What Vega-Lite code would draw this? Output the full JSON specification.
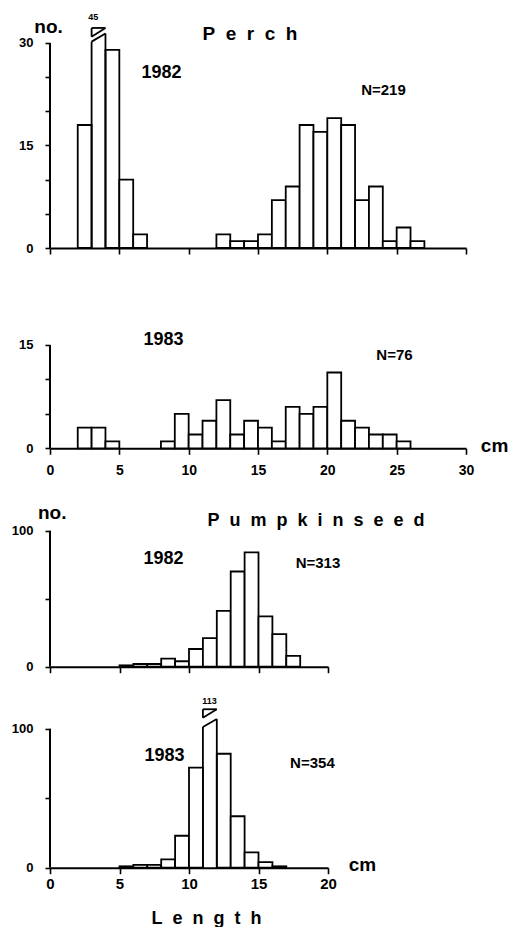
{
  "$schema": "https://vega.github.io/schema/vega-lite/v6.json",
  "padding": {"left": 11, "top": 0, "right": 0, "bottom": 0},
  "spacing": 0,
  "bounds": "flush",
  "config": {
    "view": {"stroke": null},
    "font": "Liberation Sans",
    "axis": {"grid": false, "domainColor": "black", "domainWidth": 2, "tickColor": "black", "tickWidth": 1.6, "labelColor": "black", "labelFont": "Liberation Sans", "labelFontWeight": "bold", "labelFlush": false, "labelOverlap": false, "title": null},
    "text": {"font": "Liberation Sans", "fontWeight": "bold", "color": "black"}
  },
  "datasets": {
    "perch1982": [
      {"start": 2, "end": 3, "count": 18}, {"start": 3, "end": 4, "count": 45}, {"start": 4, "end": 5, "count": 29},
      {"start": 5, "end": 6, "count": 10}, {"start": 6, "end": 7, "count": 2},
      {"start": 12, "end": 13, "count": 2}, {"start": 13, "end": 14, "count": 1}, {"start": 14, "end": 15, "count": 1},
      {"start": 15, "end": 16, "count": 2}, {"start": 16, "end": 17, "count": 7}, {"start": 17, "end": 18, "count": 9},
      {"start": 18, "end": 19, "count": 18}, {"start": 19, "end": 20, "count": 17}, {"start": 20, "end": 21, "count": 19},
      {"start": 21, "end": 22, "count": 18}, {"start": 22, "end": 23, "count": 7}, {"start": 23, "end": 24, "count": 9},
      {"start": 24, "end": 25, "count": 1}, {"start": 25, "end": 26, "count": 3}, {"start": 26, "end": 27, "count": 1}
    ],
    "perch1983": [
      {"start": 2, "end": 3, "count": 3}, {"start": 3, "end": 4, "count": 3}, {"start": 4, "end": 5, "count": 1},
      {"start": 8, "end": 9, "count": 1}, {"start": 9, "end": 10, "count": 5}, {"start": 10, "end": 11, "count": 2},
      {"start": 11, "end": 12, "count": 4}, {"start": 12, "end": 13, "count": 7}, {"start": 13, "end": 14, "count": 2},
      {"start": 14, "end": 15, "count": 4}, {"start": 15, "end": 16, "count": 3}, {"start": 16, "end": 17, "count": 1},
      {"start": 17, "end": 18, "count": 6}, {"start": 18, "end": 19, "count": 5}, {"start": 19, "end": 20, "count": 6},
      {"start": 20, "end": 21, "count": 11}, {"start": 21, "end": 22, "count": 4}, {"start": 22, "end": 23, "count": 3},
      {"start": 23, "end": 24, "count": 2}, {"start": 24, "end": 25, "count": 2}, {"start": 25, "end": 26, "count": 1}
    ],
    "pk1982": [
      {"start": 5, "end": 6, "count": 1}, {"start": 6, "end": 7, "count": 2}, {"start": 7, "end": 8, "count": 2},
      {"start": 8, "end": 9, "count": 6}, {"start": 9, "end": 10, "count": 4}, {"start": 10, "end": 11, "count": 13},
      {"start": 11, "end": 12, "count": 21}, {"start": 12, "end": 13, "count": 41}, {"start": 13, "end": 14, "count": 70},
      {"start": 14, "end": 15, "count": 84}, {"start": 15, "end": 16, "count": 37}, {"start": 16, "end": 17, "count": 24},
      {"start": 17, "end": 18, "count": 8}
    ],
    "pk1983": [
      {"start": 5, "end": 6, "count": 1}, {"start": 6, "end": 7, "count": 2}, {"start": 7, "end": 8, "count": 2},
      {"start": 8, "end": 9, "count": 6}, {"start": 9, "end": 10, "count": 23}, {"start": 10, "end": 11, "count": 72},
      {"start": 11, "end": 12, "count": 113}, {"start": 12, "end": 13, "count": 82}, {"start": 13, "end": 14, "count": 37},
      {"start": 14, "end": 15, "count": 11}, {"start": 15, "end": 16, "count": 4}, {"start": 16, "end": 17, "count": 1}
    ],
    "one": [{}]
  },
  "vconcat": [
    {
      "width": 416, "height": 248,
      "layer": [
        {"data": {"name": "perch1982"}, "transform": [{"filter": "datum.count < 40"}],
         "mark": {"type": "rect", "fill": "white", "stroke": "black", "strokeWidth": 1.8},
         "encoding": {
           "x": {"field": "start", "type": "quantitative", "scale": {"domain": [0, 30], "nice": false}, "axis": {"values": [0, 5, 10, 15, 20, 25, 30], "labels": false, "tickSize": 6}},
           "x2": {"field": "end"},
           "y": {"field": "count", "type": "quantitative", "scale": {"domain": [0, 36.29], "nice": false}, "axis": {"values": [0, 5, 10, 15, 20, 25, 30], "labelExpr": "datum.value % 15 === 0 ? datum.label : ''", "domain": false, "tickSize": 5, "labelPadding": 12, "labelFontSize": 13}},
           "y2": {"datum": 0}
         }},
        {"data": {"name": "one"}, "mark": {"type": "rule", "strokeWidth": 2, "color": "black"}, "encoding": {"x": {"datum": 0}, "y": {"datum": 0}, "y2": {"datum": 30}}},
        {"data": {"name": "one"}, "mark": {"type": "rule", "strokeWidth": 1.8, "color": "black"}, "encoding": {"x": {"datum": 3}, "y": {"datum": 0}, "y2": {"datum": 30.2}}},
        {"data": {"name": "one"}, "mark": {"type": "rule", "strokeWidth": 1.8, "color": "black"}, "encoding": {"x": {"datum": 3}, "y": {"datum": 30.2}, "x2": {"datum": 4}, "y2": {"datum": 31.4}}},
        {"data": {"name": "one"}, "mark": {"type": "rule", "strokeWidth": 1.8, "color": "black"}, "encoding": {"x": {"datum": 4}, "y": {"datum": 0}, "y2": {"datum": 31.4}}},
        {"data": {"name": "one"}, "mark": {"type": "rule", "strokeWidth": 1.8, "color": "black"}, "encoding": {"x": {"datum": 3}, "y": {"datum": 30.9}, "y2": {"datum": 32.2}}},
        {"data": {"name": "one"}, "mark": {"type": "rule", "strokeWidth": 1.8, "color": "black"}, "encoding": {"x": {"datum": 3}, "y": {"datum": 32.2}, "x2": {"datum": 4}, "y2": {"datum": 32.2}}},
        {"data": {"name": "one"}, "mark": {"type": "rule", "strokeWidth": 1.8, "color": "black"}, "encoding": {"x": {"datum": 3}, "y": {"datum": 30.9}, "x2": {"datum": 4}, "y2": {"datum": 32.2}}},
        {"data": {"name": "one"}, "mark": {"type": "text", "text": "no.", "fontSize": 19, "align": "center", "baseline": "alphabetic"}, "encoding": {"x": {"datum": -0.1}, "y": {"datum": 31.46}}},
        {"data": {"name": "one"}, "mark": {"type": "text", "text": "45", "fontSize": 9, "align": "center", "baseline": "alphabetic"}, "encoding": {"x": {"datum": 3.12}, "y": {"datum": 33.36}}},
        {"data": {"name": "one"}, "mark": {"type": "text", "text": "P\u00a0\u00a0e\u00a0\u00a0r\u00a0\u00a0c\u00a0\u00a0h", "fontSize": 19, "align": "center", "baseline": "alphabetic"}, "encoding": {"x": {"datum": 14.42}, "y": {"datum": 30.44}}},
        {"data": {"name": "one"}, "mark": {"type": "text", "text": "1982", "fontSize": 18, "align": "center", "baseline": "alphabetic"}, "encoding": {"x": {"datum": 8.04}, "y": {"datum": 24.88}}},
        {"data": {"name": "one"}, "mark": {"type": "text", "text": "N=219", "fontSize": 15, "align": "center", "baseline": "alphabetic"}, "encoding": {"x": {"datum": 24.05}, "y": {"datum": 22.39}}}
      ]
    },
    {
      "width": 416, "height": 200.3,
      "layer": [
        {"data": {"name": "perch1983"},
         "mark": {"type": "rect", "fill": "white", "stroke": "black", "strokeWidth": 1.8},
         "encoding": {
           "x": {"field": "start", "type": "quantitative", "scale": {"domain": [0, 30], "nice": false}, "axis": {"values": [0, 5, 10, 15, 20, 25, 30], "tickSize": 6, "labelPadding": 9, "labelFontSize": 14}},
           "x2": {"field": "end"},
           "y": {"field": "count", "type": "quantitative", "scale": {"domain": [0, 29.07], "nice": false}, "axis": {"values": [0, 5, 10, 15], "labelExpr": "datum.value % 15 === 0 ? datum.label : ''", "domain": false, "tickSize": 5, "labelPadding": 12, "labelFontSize": 13}},
           "y2": {"datum": 0}
         }},
        {"data": {"name": "one"}, "mark": {"type": "rule", "strokeWidth": 2, "color": "black"}, "encoding": {"x": {"datum": 0}, "y": {"datum": 0}, "y2": {"datum": 15}}},
        {"data": {"name": "one"}, "mark": {"type": "text", "text": "1983", "fontSize": 18, "align": "center", "baseline": "alphabetic"}, "encoding": {"x": {"datum": 8.18}, "y": {"datum": 15.0}}},
        {"data": {"name": "one"}, "mark": {"type": "text", "text": "N=76", "fontSize": 15, "align": "center", "baseline": "alphabetic"}, "encoding": {"x": {"datum": 24.84}, "y": {"datum": 12.83}}},
        {"data": {"name": "one"}, "mark": {"type": "text", "text": "cm", "fontSize": 19, "align": "center", "baseline": "alphabetic"}, "encoding": {"x": {"datum": 32.06}, "y": {"datum": -0.49}}}
      ]
    },
    {
      "width": 278, "height": 217.7,
      "layer": [
        {"data": {"name": "pk1982"},
         "mark": {"type": "rect", "fill": "white", "stroke": "black", "strokeWidth": 1.8},
         "encoding": {
           "x": {"field": "start", "type": "quantitative", "scale": {"domain": [0, 20], "nice": false}, "axis": {"values": [0, 5, 10, 15, 20], "labels": false, "tickSize": 6}},
           "x2": {"field": "end"},
           "y": {"field": "count", "type": "quantitative", "scale": {"domain": [0, 160.07], "nice": false}, "axis": {"values": [0, 50, 100], "labelExpr": "datum.value % 100 === 0 ? datum.label : ''", "domain": false, "tickSize": 5, "labelPadding": 12, "labelFontSize": 13}},
           "y2": {"datum": 0}
         }},
        {"data": {"name": "one"}, "mark": {"type": "rule", "strokeWidth": 2, "color": "black"}, "encoding": {"x": {"datum": 0}, "y": {"datum": 0}, "y2": {"datum": 100}}},
        {"data": {"name": "one"}, "mark": {"type": "text", "text": "no.", "fontSize": 19, "align": "center", "baseline": "alphabetic"}, "encoding": {"x": {"datum": 0.16}, "y": {"datum": 108.8}}},
        {"data": {"name": "one"}, "mark": {"type": "text", "text": "P\u00a0\u00a0u\u00a0\u00a0m\u00a0\u00a0p\u00a0\u00a0k\u00a0\u00a0i\u00a0\u00a0n\u00a0\u00a0s\u00a0\u00a0e\u00a0\u00a0e\u00a0\u00a0d", "fontSize": 18, "align": "center", "baseline": "alphabetic"}, "encoding": {"x": {"datum": 19.13}, "y": {"datum": 103.7}}},
        {"data": {"name": "one"}, "mark": {"type": "text", "text": "1982", "fontSize": 18, "align": "center", "baseline": "alphabetic"}, "encoding": {"x": {"datum": 8.17}, "y": {"datum": 75.7}}},
        {"data": {"name": "one"}, "mark": {"type": "text", "text": "N=313", "fontSize": 15, "align": "center", "baseline": "alphabetic"}, "encoding": {"x": {"datum": 19.28}, "y": {"datum": 72.8}}}
      ]
    },
    {
      "width": 278, "height": 200.7,
      "layer": [
        {"data": {"name": "pk1983"}, "transform": [{"filter": "datum.count < 110"}],
         "mark": {"type": "rect", "fill": "white", "stroke": "black", "strokeWidth": 1.8},
         "encoding": {
           "x": {"field": "start", "type": "quantitative", "scale": {"domain": [0, 20], "nice": false}, "axis": {"values": [0, 5, 10, 15, 20], "tickSize": 6, "labelPadding": 3, "labelFontSize": 15}},
           "x2": {"field": "end"},
           "y": {"field": "count", "type": "quantitative", "scale": {"domain": [0, 144.4], "nice": false}, "axis": {"values": [0, 50, 100], "labelExpr": "datum.value % 100 === 0 ? datum.label : ''", "domain": false, "tickSize": 5, "labelPadding": 12, "labelFontSize": 13}},
           "y2": {"datum": 0}
         }},
        {"data": {"name": "one"}, "mark": {"type": "rule", "strokeWidth": 2, "color": "black"}, "encoding": {"x": {"datum": 0}, "y": {"datum": 0}, "y2": {"datum": 100}}},
        {"data": {"name": "one"}, "mark": {"type": "rule", "strokeWidth": 1.8, "color": "black"}, "encoding": {"x": {"datum": 11}, "y": {"datum": 0}, "y2": {"datum": 101.2}}},
        {"data": {"name": "one"}, "mark": {"type": "rule", "strokeWidth": 1.8, "color": "black"}, "encoding": {"x": {"datum": 11}, "y": {"datum": 101.2}, "x2": {"datum": 12}, "y2": {"datum": 107}}},
        {"data": {"name": "one"}, "mark": {"type": "rule", "strokeWidth": 1.8, "color": "black"}, "encoding": {"x": {"datum": 12}, "y": {"datum": 0}, "y2": {"datum": 107}}},
        {"data": {"name": "one"}, "mark": {"type": "rule", "strokeWidth": 1.8, "color": "black"}, "encoding": {"x": {"datum": 11}, "y": {"datum": 107.9}, "y2": {"datum": 114}}},
        {"data": {"name": "one"}, "mark": {"type": "rule", "strokeWidth": 1.8, "color": "black"}, "encoding": {"x": {"datum": 11}, "y": {"datum": 114}, "x2": {"datum": 12}, "y2": {"datum": 114}}},
        {"data": {"name": "one"}, "mark": {"type": "rule", "strokeWidth": 1.8, "color": "black"}, "encoding": {"x": {"datum": 11}, "y": {"datum": 107.9}, "x2": {"datum": 12}, "y2": {"datum": 114}}},
        {"data": {"name": "one"}, "mark": {"type": "text", "text": "113", "fontSize": 9, "align": "center", "baseline": "alphabetic"}, "encoding": {"x": {"datum": 11.47}, "y": {"datum": 117.8}}},
        {"data": {"name": "one"}, "mark": {"type": "text", "text": "1983", "fontSize": 18, "align": "center", "baseline": "alphabetic"}, "encoding": {"x": {"datum": 8.24}, "y": {"datum": 76.8}}},
        {"data": {"name": "one"}, "mark": {"type": "text", "text": "N=354", "fontSize": 15, "align": "center", "baseline": "alphabetic"}, "encoding": {"x": {"datum": 18.88}, "y": {"datum": 71.9}}},
        {"data": {"name": "one"}, "mark": {"type": "text", "text": "cm", "fontSize": 19, "align": "center", "baseline": "alphabetic"}, "encoding": {"x": {"datum": 22.48}, "y": {"datum": -2.3}}},
        {"data": {"name": "one"}, "mark": {"type": "text", "text": "L\u00a0\u00a0e\u00a0\u00a0n\u00a0\u00a0g\u00a0\u00a0t\u00a0\u00a0h", "fontSize": 18, "align": "center", "baseline": "alphabetic"}, "encoding": {"x": {"datum": 11.26}, "y": {"datum": -40.5}}}
      ]
    }
  ]
}
